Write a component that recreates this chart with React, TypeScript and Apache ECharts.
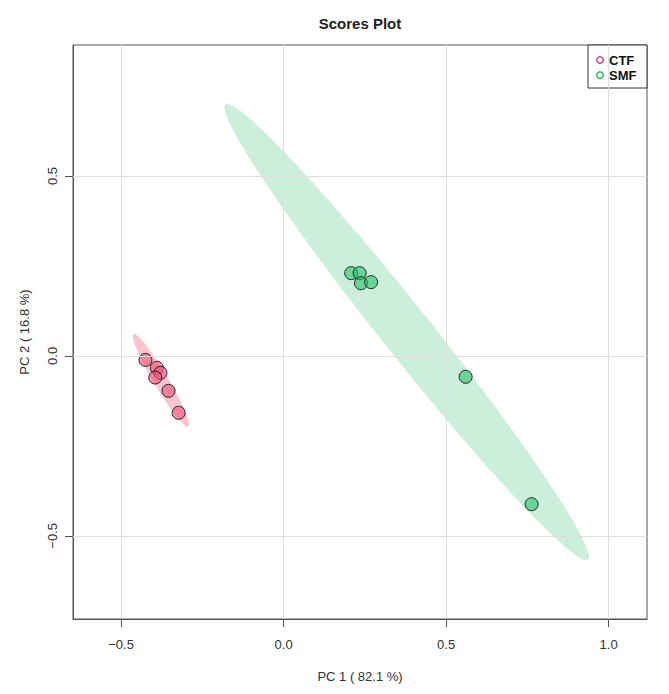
import React, { useEffect, useRef } from "react";
import * as echarts from "echarts";

// ---- data ----
const groups = ["CTF", "SMF"];
const ctfPC1 = [-0.425, -0.39, -0.379, -0.395, -0.354, -0.323];
const ctfPC2 = [-0.011, -0.033, -0.047, -0.06, -0.097, -0.158];
const smfPC1 = [0.208, 0.234, 0.238, 0.269, 0.56, 0.763];
const smfPC2 = [0.23, 0.23, 0.202, 0.205, -0.058, -0.412];
const xTicks = [-0.5, 0, 0.5, 1.0];
const yTicks = [-0.5, 0, 0.5];
const xName = "PC 1 ( 82.1 %)";
const yName = "PC 2 ( 16.8 %)";
const titleText = "Scores Plot";

const pointFill = ["rgba(240,80,118,0.6)", "rgba(40,192,105,0.6)"];
const ellipseFill = ["rgba(235,62,102,0.3)", "rgba(85,202,135,0.3)"];
const legendStroke = ["#ec4a72", "#2cbf6c"];

// 95% confidence ellipse (as ellipse::ellipse in R) computed from the group's scores
function confidenceEllipse(xs: number[], ys: number[], level = 0.95, n = 120) {
  const m = xs.length;
  const cx = xs.reduce((a, b) => a + b, 0) / m;
  const cy = ys.reduce((a, b) => a + b, 0) / m;
  let sxx = 0, syy = 0, sxy = 0;
  for (let i = 0; i < m; i++) {
    sxx += (xs[i] - cx) ** 2;
    syy += (ys[i] - cy) ** 2;
    sxy += (xs[i] - cx) * (ys[i] - cy);
  }
  sxx /= m - 1; syy /= m - 1; sxy /= m - 1;
  const s1 = Math.sqrt(sxx), s2 = Math.sqrt(syy);
  const r = sxy / (s1 * s2);
  const d = Math.acos(r);
  const t = Math.sqrt(-2 * Math.log(1 - level));
  const pts: number[][] = [];
  for (let k = 0; k < n; k++) {
    const a = (2 * Math.PI * k) / n;
    pts.push([t * s1 * Math.cos(a + d / 2) + cx, t * s2 * Math.cos(a - d / 2) + cy]);
  }
  return pts;
}

export default function App() {
  const ref = useRef<HTMLDivElement>(null);
  useEffect(() => {
    if (!ref.current) return;
    const chart = echarts.init(ref.current, undefined, { renderer: "svg" });
    const ellipses = [confidenceEllipse(ctfPC1, ctfPC2), confidenceEllipse(smfPC1, smfPC2)];
    const pcs = [
      ctfPC1.map((x, i) => [x, ctfPC2[i]]),
      smfPC1.map((x, i) => [x, smfPC2[i]]),
    ];
    const font = "Liberation Sans, Arial, sans-serif";
    const ellipseSeries = ellipses.map((pts, gi) => ({
      type: "custom",
      name: groups[gi] + " ellipse",
      z: 1,
      silent: true,
      clip: true,
      data: [[pts[0][0], pts[0][1]]],
      renderItem: (params: any, api: any) => ({
        type: "polygon",
        shape: { points: pts.map((p) => api.coord(p)) },
        style: { fill: ellipseFill[gi], stroke: "none" },
      }),
    }));
    const pointSeries = pcs.map((d, gi) => ({
      type: "scatter",
      name: groups[gi],
      z: 3,
      data: d,
      symbol: "circle",
      symbolSize: 13,
      itemStyle: { color: pointFill[gi], borderColor: "#222", borderWidth: 1, opacity: 1 },
    }));
    const gridSeries = {
      type: "scatter",
      z: 0,
      data: [],
      silent: true,
      markLine: {
        silent: true,
        symbol: ["none", "none"],
        label: { show: false },
        lineStyle: { color: "#dedede", type: "solid", width: 1 },
        data: [...xTicks.map((v) => ({ xAxis: v })), ...yTicks.map((v) => ({ yAxis: v }))],
      },
    };
    chart.setOption({
      animation: false,
      backgroundColor: "#fff",
      grid: {
        left: 73, right: 22, top: 45, bottom: 75,
        show: true, borderColor: "#555", borderWidth: 1, backgroundColor: "transparent",
      },
      xAxis: {
        type: "value",
        min: -0.648,
        max: 1.118,
        name: xName,
        nameLocation: "middle",
        nameGap: 51,
        nameTextStyle: { fontSize: 13, color: "#333", fontFamily: font },
        axisLine: { show: true, onZero: false, lineStyle: { color: "#555", width: 1 } },
        axisTick: { show: true, customValues: xTicks, length: 8, lineStyle: { color: "#555" } },
        axisLabel: {
          customValues: xTicks,
          margin: 19,
          fontSize: 13,
          color: "#333",
          fontFamily: font,
          formatter: (v: number) => (v < 0 ? "\u2212" : "") + Math.abs(v).toFixed(1),
        },
        splitLine: { show: false },
      },
      yAxis: {
        type: "value",
        min: -0.731,
        max: 0.864,
        name: yName,
        nameLocation: "middle",
        nameGap: 42,
        nameTextStyle: { fontSize: 13, color: "#333", fontFamily: font },
        axisLine: { show: true, onZero: false, lineStyle: { color: "#555", width: 1 } },
        axisTick: { show: true, customValues: yTicks, length: 8, lineStyle: { color: "#555" } },
        axisLabel: {
          customValues: yTicks,
          rotate: 90,
          margin: 14,
          fontSize: 13,
          color: "#333",
          fontFamily: font,
          formatter: (v: number) => (v < 0 ? "\u2212" : "") + Math.abs(v).toFixed(1),
        },
        splitLine: { show: false },
      },
      graphic: [
        {
          type: "text",
          x: 360,
          y: 23,
          style: {
            text: titleText,
            fontSize: 15,
            fontWeight: "bold",
            fontFamily: font,
            fill: "#222",
            textAlign: "center",
            textVerticalAlign: "middle",
          },
        },
        {
          type: "group",
          z: 10,
          children: [
            {
              type: "rect",
              shape: { x: 588, y: 45, width: 59, height: 43 },
              style: { fill: "#fff", stroke: "#333", lineWidth: 1 },
            },
            ...groups.flatMap((g, i) => [
              {
                type: "circle",
                shape: { cx: 600, cy: 60 + i * 15, r: 3.2 },
                style: { fill: "none", stroke: legendStroke[i], lineWidth: 1.6 },
              },
              {
                type: "text",
                x: 609,
                y: 60 + i * 15,
                style: {
                  text: g,
                  fontSize: 13,
                  fontWeight: "bold",
                  fontFamily: font,
                  fill: "#111",
                  textVerticalAlign: "middle",
                },
              },
            ]),
          ],
        },
      ],
      series: [gridSeries, ...ellipseSeries, ...pointSeries],
    });
    return () => chart.dispose();
  }, []);
  return (
    <div
      ref={ref}
      style={{ position: "fixed", left: 0, top: 0, width: 669, height: 694 }}
    />
  );
}
